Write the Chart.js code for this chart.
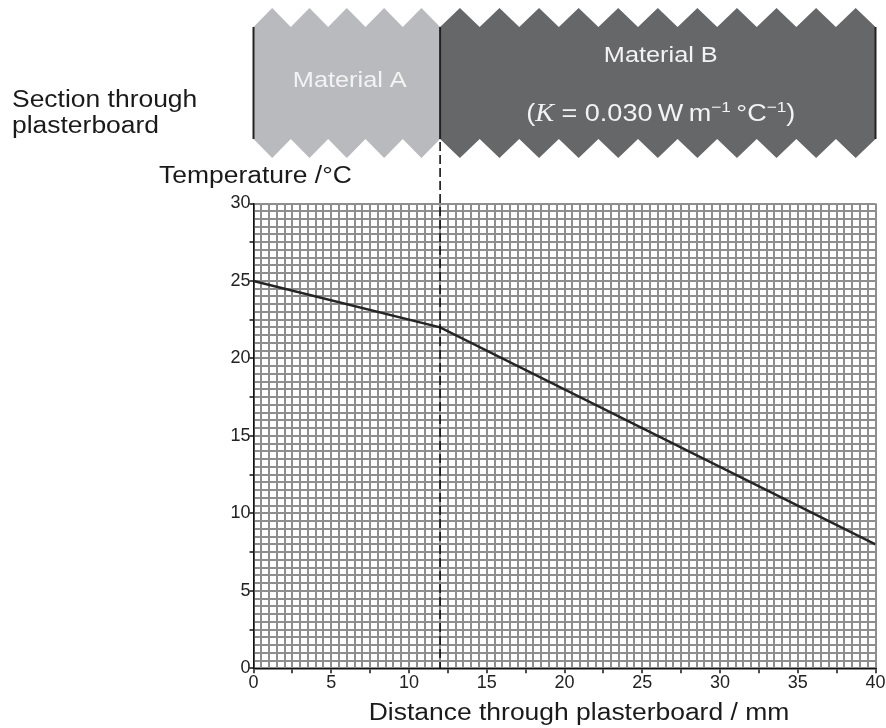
<!DOCTYPE html>
<html>
<head>
<meta charset="utf-8">
<script src="https://cdn.jsdelivr.net/npm/chart.js@4/dist/chart.umd.min.js"></script>
<style>
html,body{margin:0;padding:0;background:#fff;}
#wrap{width:886px;height:728px;position:relative;}
</style>
</head>
<body>
<div id="wrap"><canvas id="c" width="886" height="728"></canvas></div>
<script>
// ---- data ----
const distances = [0, 12, 40];          // mm
const temperatures = [25, 22, 8];       // °C
const materialEdges = [0, 12, 40];      // mm : A from 0-12, B from 12-40
const materialNames = ['Material A', 'Material B'];
const xTickLabels = [0, 5, 10, 15, 20, 25, 30, 35, 40];
const yTickLabels = [0, 5, 10, 15, 20, 25, 30];
const sectionLabel = ['Section through', 'plasterboard'];
const yTitle = 'Temperature /°C';
const xTitle = 'Distance through plasterboard / mm';

const FONT = '"Liberation Sans", Arial, Helvetica, sans-serif';
const SX = 1.15; // horizontal stretch of the printed lettering

function stretchedText(ctx, txt, x, y, align, font) {
  ctx.save();
  ctx.font = font;
  const w = ctx.measureText(txt).width * SX;
  let left = x;
  if (align === 'center') left = x - w / 2;
  else if (align === 'right') left = x - w;
  ctx.translate(left, y);
  ctx.scale(SX, 1);
  ctx.textAlign = 'left';
  ctx.fillText(txt, 0, 0);
  ctx.restore();
  return w;
}

const bandPlugin = {
  id: 'band',
  beforeDraw(chart) {
    const ctx = chart.ctx;
    const xs = chart.scales.x;
    ctx.save();
    ctx.fillStyle = '#fff';
    ctx.fillRect(0, 0, chart.width, chart.height);
    const px = materialEdges.map(v => xs.getPixelForValue(v));
    const teeth = [5, 11];
    const fills = ['#b9babd', '#666769'];
    const TP = 8, TV = 27, BV = 139, BP = 158;
    for (let m = 0; m < 2; m++) {
      const x0 = px[m], x1 = px[m + 1], n = teeth[m], p = (x1 - x0) / n;
      ctx.beginPath();
      ctx.moveTo(x0, TV);
      for (let k = 0; k < n; k++) {
        ctx.lineTo(x0 + p * (k + 0.5), TP);
        ctx.lineTo(x0 + p * (k + 1), TV);
      }
      ctx.lineTo(x1, BV);
      for (let k = n - 1; k >= 0; k--) {
        ctx.lineTo(x0 + p * (k + 0.5), BP);
        ctx.lineTo(x0 + p * k, BV);
      }
      ctx.closePath();
      ctx.fillStyle = fills[m];
      ctx.fill();
    }
    // vertical edges
    ctx.strokeStyle = '#222';
    ctx.lineWidth = 2;
    px.forEach(x => {
      ctx.beginPath();
      ctx.moveTo(x, TV);
      ctx.lineTo(x, BV);
      ctx.stroke();
    });
    // band texts
    ctx.fillStyle = '#f3f3f3';
    ctx.textBaseline = 'alphabetic';
    const F = '22px ' + FONT;
    stretchedText(ctx, materialNames[0], (px[0] + px[1]) / 2 + 3, 87, 'center', F);
    const cB = (px[1] + px[2]) / 2 + 3;
    stretchedText(ctx, materialNames[1], cB, 62, 'center', F);
    // (K = 0.030 W m−1 °C−1)
    const FK = '23.5px ' + FONT;
    const parts = [
      {t: '(', f: FK, dy: 0},
      {t: 'K', f: 'italic 24.5px "Liberation Serif", "Times New Roman", serif', dy: 0},
      {t: ' = 0.030\u2009W\u2009m', f: FK, dy: 0},
      {t: '\u22121', f: '15px ' + FONT, dy: -9},
      {t: '\u2009°C', f: FK, dy: 0},
      {t: '\u22121', f: '15px ' + FONT, dy: -9},
      {t: ')', f: FK, dy: 0}
    ];
    let total = 0;
    parts.forEach(pt => { ctx.font = pt.f; pt.w = ctx.measureText(pt.t).width * SX; total += pt.w; });
    let x = cB - total / 2;
    parts.forEach(pt => { stretchedText(ctx, pt.t, x, 121 + pt.dy, 'left', pt.f); x += pt.w; });
    // left texts
    ctx.fillStyle = '#1a1a1a';
    stretchedText(ctx, sectionLabel[0], 12, 107, 'left', '23px ' + FONT);
    stretchedText(ctx, sectionLabel[1], 12, 133, 'left', '23px ' + FONT);
    stretchedText(ctx, yTitle, 159, 183, 'left', '23px ' + FONT);
    // x axis title
    stretchedText(ctx, xTitle, 579, 720, 'center', '23px ' + FONT);
    ctx.restore();
  },
  afterDraw(chart) {
    const ctx = chart.ctx;
    const x = chart.scales.x.getPixelForValue(materialEdges[1]);
    ctx.save();
    ctx.strokeStyle = '#111';
    ctx.lineWidth = 1.6;
    ctx.setLineDash([9, 4]);
    ctx.beginPath();
    ctx.moveTo(x, 142);
    ctx.lineTo(x, chart.chartArea.bottom);
    ctx.stroke();
    ctx.restore();
  }
};

const tickCol = c => (c.tick && Math.abs(c.tick.value % 2.5) < 1e-9) ? '#111' : 'rgba(0,0,0,0)';

new Chart(document.getElementById('c'), {
  type: 'scatter',
  data: {
    datasets: [{
      data: distances.map((d, i) => ({x: d, y: temperatures[i]})),
      showLine: true,
      borderColor: '#252525',
      borderWidth: 2.4,
      pointRadius: 0,
      tension: 0,
      fill: false
    }]
  },
  options: {
    responsive: false,
    animation: false,
    devicePixelRatio: 1,
    layout: {padding: {left: 193.5, top: 203.5, right: 10.5, bottom: 0}},
    plugins: {legend: {display: false}, tooltip: {enabled: false}},
    scales: {
      x: {
        type: 'linear', min: 0, max: 40,
        ticks: {
          stepSize: 0.5, autoSkip: false, maxRotation: 0, minRotation: 0, padding: -1,
          color: '#222', font: {family: FONT, size: 18},
          callback: v => xTickLabels.includes(v) ? String(v) : ''
        },
        grid: {color: '#8e8e8e', lineWidth: 2, drawTicks: true, tickLength: 5, tickColor: tickCol, tickWidth: 1.5},
        border: {color: '#111', width: 1.5},
        title: {display: false, text: xTitle},
        afterFit: s => { s.height = 59.7; }
      },
      y: {
        type: 'linear', min: 0, max: 30,
        ticks: {
          stepSize: 0.5, autoSkip: false, padding: -1,
          color: '#222', font: {family: FONT, size: 18},
          callback: v => yTickLabels.includes(v) ? String(v) : ''
        },
        grid: {color: '#8e8e8e', lineWidth: 2, drawTicks: true, tickLength: 4, tickColor: tickCol, tickWidth: 1.5},
        border: {color: '#111', width: 1.5},
        afterFit: s => { s.width = 60; }
      }
    }
  },
  plugins: [bandPlugin]
});
</script>
</body>
</html>
